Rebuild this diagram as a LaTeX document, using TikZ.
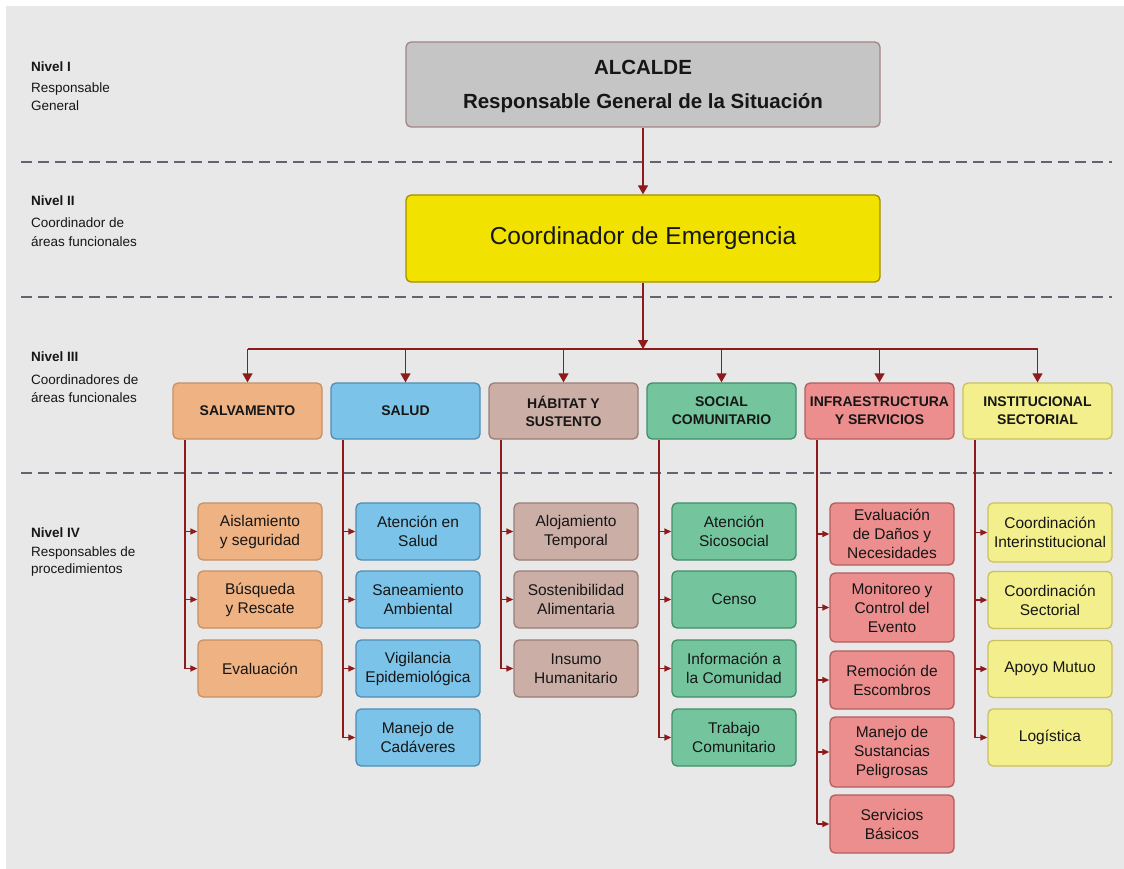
\documentclass[tikz,border=0pt]{standalone}
\usepackage{fontspec}
\setmainfont{Liberation Sans}
\usetikzlibrary{arrows.meta}
\definecolor{bg}{HTML}{E8E8E8}
\definecolor{alcF}{HTML}{C6C5C6}
\definecolor{alcD}{HTML}{A38585}
\definecolor{coordF}{HTML}{F2E200}
\definecolor{coordD}{HTML}{A48E00}
\definecolor{salvF}{HTML}{EFB283}
\definecolor{salvD}{HTML}{C79164}
\definecolor{saludF}{HTML}{7BC3E8}
\definecolor{saludD}{HTML}{4D8DB5}
\definecolor{habF}{HTML}{CBAEA5}
\definecolor{habD}{HTML}{9A7D74}
\definecolor{socF}{HTML}{74C59E}
\definecolor{socD}{HTML}{3F8E69}
\definecolor{infF}{HTML}{EC8E8E}
\definecolor{infD}{HTML}{B35E5E}
\definecolor{insF}{HTML}{F3EF8C}
\definecolor{insD}{HTML}{C9C15E}
\definecolor{linered}{HTML}{8E1B1B}
\definecolor{sepgray}{HTML}{5F6670}
\definecolor{txt}{HTML}{161616}
\begin{document}
\begin{tikzpicture}[x=1pt,y=-1pt,
  box/.style={rounded corners=5pt, draw, line width=1.3pt, align=center, inner sep=2pt, text=txt},
  lthree/.style={box, minimum width=149pt, minimum height=56pt, font=\fontsize{14}{18}\selectfont\bfseries},
  lfour/.style={box, minimum width=124pt, minimum height=57pt, font=\fontsize{15.5}{19}\selectfont},
  conn/.style={draw=linered, line width=1.3pt},
  arr/.style={conn, -{Triangle[width=10pt,length=9pt]}},
  sarr/.style={conn, -{Triangle[width=6pt,length=7pt]}},
  sepline/.style={draw=sepgray, line width=2.4pt, dash pattern=on 11pt off 6pt},
  lvl/.style={anchor=base west, inner sep=0pt, font=\fontsize{13.5}{15}\selectfont, text=txt},
  big/.style={anchor=base, inner sep=0pt, font=\fontsize{20.5}{24}\selectfont\bfseries, text=txt}
]
\fill[white] (0,0) rectangle (1124,869);
\fill[bg] (6,6) rectangle (1124,869);
\useasboundingbox (0,0) rectangle (1124,869);

% separators
\draw[sepline] (21,162) -- (1112,162);
\draw[sepline] (21,297) -- (1112,297);
\draw[sepline] (21,473) -- (1112,473);

% level labels
\node[lvl] (n1a) at (31,72) {\bfseries Nivel I};
\node[lvl] (n1b) at (31,93) {Responsable};
\node[lvl] (n1c) at (31,111) {General};
\node[lvl] (n2a) at (31,206) {\bfseries Nivel II};
\node[lvl] (n2b) at (31,228) {Coordinador de};
\node[lvl] (n2c) at (31,247) {áreas funcionales};
\node[lvl] (n3a) at (31,361) {\bfseries Nivel III};
\node[lvl] (n3b) at (31,384) {Coordinadores de};
\node[lvl] (n3c) at (31,402) {áreas funcionales};
\node[lvl] (n4a) at (31,537) {\bfseries Nivel IV};
\node[lvl] (n4b) at (31,556) {Responsables de};
\node[lvl] (n4c) at (31,573) {procedimientos};

% level I and II
\node[box, fill=alcF, draw=alcD, minimum width=474pt, minimum height=85pt] (alc) at (643,84.5) {};
\node[big] (alcT1) at (643,75) {ALCALDE};
\node[big] (alcT2) at (643,109) {Responsable General de la Situación};
\node[box, fill=coordF, draw=coordD, minimum width=474pt, minimum height=87pt, font=\fontsize{24.5}{28}\selectfont] (coord) at (643,238.5) {Coordinador de Emergencia};

% level III
\node[lthree, fill=salvF, draw=salvD] (salv) at (247.5,411) {SALVAMENTO};
\node[lthree, fill=saludF, draw=saludD] (salud) at (405.5,411) {SALUD};
\node[lthree, fill=habF, draw=habD] (hab) at (563.5,411) {HÁBITAT Y\\SUSTENTO};
\node[lthree, fill=socF, draw=socD] (soc) at (721.5,411) {SOCIAL\\COMUNITARIO};
\node[lthree, fill=infF, draw=infD] (inf) at (879.5,411) {INFRAESTRUCTURA\\Y SERVICIOS};
\node[lthree, fill=insF, draw=insD] (ins) at (1037.5,411) {INSTITUCIONAL\\SECTORIAL};

% level IV
\node[lfour, fill=salvF, draw=salvD] (sa1) at (260,531.5) {Aislamiento\\y seguridad};
\node[lfour, fill=salvF, draw=salvD] (sa2) at (260,599.5) {Búsqueda\\y Rescate};
\node[lfour, fill=salvF, draw=salvD] (sa3) at (260,668.5) {Evaluación};

\node[lfour, fill=saludF, draw=saludD] (sl1) at (418,531.5) {Atención en\\Salud};
\node[lfour, fill=saludF, draw=saludD] (sl2) at (418,599.5) {Saneamiento\\Ambiental};
\node[lfour, fill=saludF, draw=saludD] (sl3) at (418,668.5) {Vigilancia\\Epidemiológica};
\node[lfour, fill=saludF, draw=saludD] (sl4) at (418,737.5) {Manejo de\\Cadáveres};

\node[lfour, fill=habF, draw=habD] (hb1) at (576,531.5) {Alojamiento\\Temporal};
\node[lfour, fill=habF, draw=habD] (hb2) at (576,599.5) {Sostenibilidad\\Alimentaria};
\node[lfour, fill=habF, draw=habD] (hb3) at (576,668.5) {Insumo\\Humanitario};

\node[lfour, fill=socF, draw=socD] (so1) at (734,531.5) {Atención\\Sicosocial};
\node[lfour, fill=socF, draw=socD] (so2) at (734,599.5) {Censo};
\node[lfour, fill=socF, draw=socD] (so3) at (734,668.5) {Información a\\la Comunidad};
\node[lfour, fill=socF, draw=socD] (so4) at (734,737.5) {Trabajo\\Comunitario};

\node[lfour, fill=infF, draw=infD, minimum height=62pt] (if1) at (892,534) {Evaluación\\de Daños y\\Necesidades};
\node[lfour, fill=infF, draw=infD, minimum height=69pt] (if2) at (892,607.5) {Monitoreo y\\Control del\\Evento};
\node[lfour, fill=infF, draw=infD, minimum height=58pt] (if3) at (892,680) {Remoción de\\Escombros};
\node[lfour, fill=infF, draw=infD, minimum height=70pt] (if4) at (892,752) {Manejo de\\Sustancias\\Peligrosas};
\node[lfour, fill=infF, draw=infD, minimum height=58pt] (if5) at (892,824) {Servicios\\Básicos};

\node[lfour, fill=insF, draw=insD, minimum height=59pt] (is1) at (1050,532.5) {Coordinación\\Interinstitucional};
\node[lfour, fill=insF, draw=insD] (is2) at (1050,600) {Coordinación\\Sectorial};
\node[lfour, fill=insF, draw=insD] (is3) at (1050,669) {Apoyo Mutuo};
\node[lfour, fill=insF, draw=insD] (is4) at (1050,737.5) {Logística};

% connectors top
\draw[arr] (alc.south) -- (coord.north);
\coordinate (bus) at (643,349);
\draw[arr] (coord.south) -- (bus);
\draw[conn] (salv.north |- bus) -- (ins.north |- bus);
\foreach \n in {salv,salud,hab,soc,inf,ins}
  \draw[arr] (\n.north |- bus) -- (\n.north);

% vertical rails
\coordinate (v1) at (185,0);
\coordinate (v2) at (343,0);
\coordinate (v3) at (501,0);
\coordinate (v4) at (659,0);
\coordinate (v5) at (817,0);
\coordinate (v6) at (975,0);
\draw[conn] (salv.south -| v1) -- (v1 |- sa3.west);
\draw[conn] (salud.south -| v2) -- (v2 |- sl4.west);
\draw[conn] (hab.south -| v3) -- (v3 |- hb3.west);
\draw[conn] (soc.south -| v4) -- (v4 |- so4.west);
\draw[conn] (inf.south -| v5) -- (v5 |- if5.west);
\draw[conn] (ins.south -| v6) -- (v6 |- is4.west);
\foreach \n in {sa1,sa2,sa3} \draw[sarr] (v1 |- \n.west) -- (\n.west);
\foreach \n in {sl1,sl2,sl3,sl4} \draw[sarr] (v2 |- \n.west) -- (\n.west);
\foreach \n in {hb1,hb2,hb3} \draw[sarr] (v3 |- \n.west) -- (\n.west);
\foreach \n in {so1,so2,so3,so4} \draw[sarr] (v4 |- \n.west) -- (\n.west);
\foreach \n in {if1,if2,if3,if4,if5} \draw[sarr] (v5 |- \n.west) -- (\n.west);
\foreach \n in {is1,is2,is3,is4} \draw[sarr] (v6 |- \n.west) -- (\n.west);
\end{tikzpicture}
\end{document}
